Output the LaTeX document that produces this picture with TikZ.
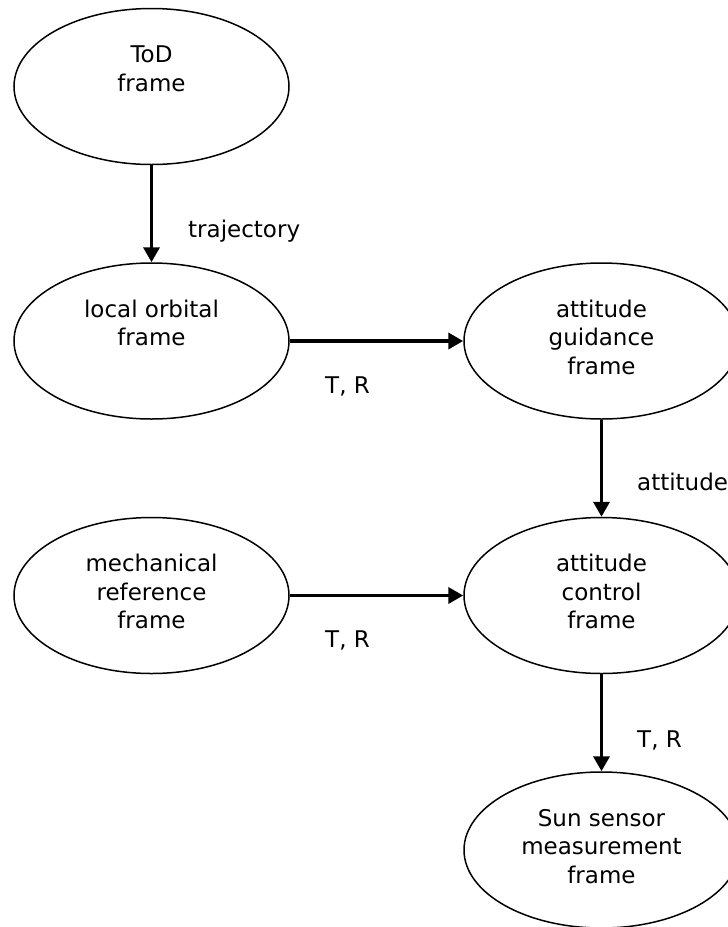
\documentclass[tikz,border=0pt]{standalone}
\usepackage{fontspec}
\setmainfont{DejaVu Sans}
\usetikzlibrary{shapes.geometric,arrows.meta}
\begin{document}
\begin{tikzpicture}[x=1pt,y=-1pt,
  frame/.style={ellipse,draw,line width=1.5pt,minimum width=275pt,minimum height=156pt,inner sep=0pt},
  frametext/.style={anchor=north,align=center,inner sep=0pt,font=\fontsize{23}{28.5}\selectfont},
  arr/.style={line width=3.6pt,-{Triangle[length=15pt,width=16pt]}},
  lbl/.style={anchor=base west,inner sep=0pt,font=\fontsize{23}{28.5}\selectfont}]
  \path[use as bounding box] (0,0) rectangle (728,927);
  \clip (0,0) rectangle (728,927);

  % frames
  \node[frame] (tod)   at (151.5,86.5) {};
  \node[frame] (lof)   at (151.5,341)  {};
  \node[frame] (guid)  at (601.5,341)  {};
  \node[frame] (mech)  at (151.5,595.5) {};
  \node[frame] (ctrl)  at (601.5,595.5) {};
  \node[frame] (sun)   at (601.5,850)  {};

  % frame names, set from the top of each ellipse
  \node[frametext] (todtxt)  at ([yshift=-35pt]tod.north)  {\strut ToD\\frame};
  \node[frametext] (loftxt)  at ([yshift=-35pt]lof.north)  {\strut local orbital\\frame};
  \node[frametext] (guidtxt) at ([yshift=-35pt]guid.north) {\strut attitude\\guidance\\frame};
  \node[frametext] (mechtxt) at ([yshift=-35pt]mech.north) {\strut mechanical\\reference\\frame};
  \node[frametext] (ctrltxt) at ([yshift=-35pt]ctrl.north) {\strut attitude\\control\\frame};
  \node[frametext] (suntxt)  at ([yshift=-35pt]sun.north)  {\strut Sun sensor\\measurement\\frame};

  % transformations
  \draw[arr] (tod) -- (lof);
  \draw[arr] (lof) -- (guid);
  \draw[arr] (guid) -- (ctrl);
  \draw[arr] (mech) -- (ctrl);
  \draw[arr] (ctrl) -- (sun);

  % labels
  \node[lbl] (ltraj) at (188,237) {trajectory};
  \node[lbl] (ltr1)  at (325,393) {T, R};
  \node[lbl] (latt)  at (637,490) {attitude};
  \node[lbl] (ltr2)  at (325,647) {T, R};
  \node[lbl] (ltr3)  at (637,747) {T, R};
\end{tikzpicture}
\end{document}
